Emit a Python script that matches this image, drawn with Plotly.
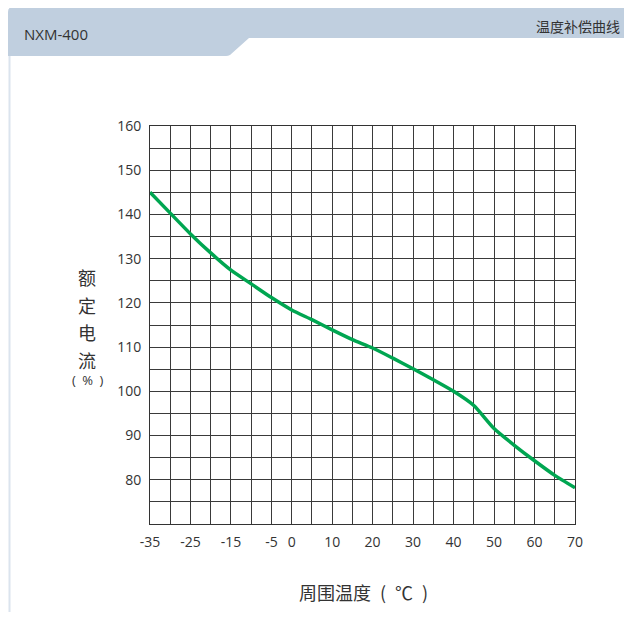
"""Temperature compensation curve for NXM-400 (rated current vs ambient temperature)."""

import plotly.graph_objects as go

# ambient temperature (°C) and rated current (%)
temps = [-35, -30, -25, -20, -15, -10, -5, 0, 5, 10, 15, 20,
         25, 30, 35, 40, 45, 50, 55, 60, 65, 70]
current = [145, 140.3, 135.6, 131.3, 127.4, 124.3, 121.2, 118.4, 116.2, 113.9, 111.7, 109.8,
           107.5, 105.1, 102.6, 100.0, 96.8, 91.6, 87.8, 84.3, 81.0, 78.2]

x_grid = list(range(-35, 71, 5))
x_labels = [-35, -25, -15, -5, 0, 10, 20, 30, 40, 50, 60, 70]
y_grid = list(range(70, 161, 5))
y_labels = [80, 90, 100, 110, 120, 130, 140, 150, 160]

# page body has an 8px margin, so the figure is drawn 8px in from the window edge
OFF = 8
W, H = 632 - 2 * OFF, 620 - 2 * OFF
L, R, T, B = 150 - OFF, 575 - OFF, 126 - OFF, 524 - OFF

FONT = "Noto Sans CJK SC, Open Sans, sans-serif"
NUM_FONT = "Open Sans, Noto Sans, sans-serif"
TXT = "#333333"
SP = "\u2002"


def px(x):
    # screen x (window coords) -> paper
    return (x - OFF - L) / (R - L)


def py(y):
    # screen y (window coords) -> paper
    return (B - (y - OFF)) / (B - T)


fig = go.Figure()
fig.add_trace(
    go.Scatter(
        x=temps,
        y=current,
        mode="lines",
        line=dict(color="#00a651", width=3.5, shape="spline", smoothing=0.6),
        hoverinfo="skip",
        showlegend=False,
    )
)

# header band
band = (
    f"M {px(8)},{py(56)} L {px(8)},{py(12)} Q {px(8)},{py(7)} {px(13)},{py(7)} "
    f"L {px(640)},{py(7)} L {px(640)},{py(38)} L {px(249)},{py(38)} "
    f"L {px(230)},{py(55)} Q {px(228)},{py(56)} {px(226)},{py(56)} Z"
)
shapes = [
    dict(type="path", xref="paper", yref="paper", path=band,
         fillcolor="#c0cfdf", line=dict(width=0), layer="below"),
    dict(type="line", xref="paper", yref="paper",
         x0=px(9.5), x1=px(9.5), y0=py(56), y1=py(630),
         line=dict(color="#dbe4ee", width=2), layer="below"),
]

annotations = [
    dict(text="NXM-400", x=px(22), y=py(34), xref="paper", yref="paper",
         xanchor="left", yanchor="middle", showarrow=False,
         font=dict(family=NUM_FONT, size=15, color=TXT)),
    dict(text="温度补偿曲线", x=px(622), y=py(26), xref="paper", yref="paper",
         xanchor="right", yanchor="middle", showarrow=False,
         font=dict(family=FONT, size=14, color=TXT)),
    dict(text=f"周围温度{SP}({SP}℃{SP})", x=px(363), y=py(592), xref="paper", yref="paper",
         xanchor="center", yanchor="middle", showarrow=False,
         font=dict(family=FONT, size=18, color=TXT)),
    dict(text=f"({SP}%{SP})", x=px(88), y=py(380), xref="paper", yref="paper",
         xanchor="center", yanchor="middle", showarrow=False,
         font=dict(family=NUM_FONT, size=13, color=TXT)),
]
for i, ch in enumerate("额定电流"):
    annotations.append(
        dict(text=ch, x=px(87), y=py(277 + i * 27.5), xref="paper", yref="paper",
             xanchor="center", yanchor="middle", showarrow=False,
             font=dict(family=FONT, size=18, color=TXT))
    )

axis_common = dict(
    showgrid=True,
    gridcolor="#3a3a3a",
    gridwidth=1,
    zeroline=False,
    showline=True,
    mirror=True,
    linecolor="#333333",
    linewidth=1,
    ticks="",
    ticklabelstandoff=5,
    tickfont=dict(family=NUM_FONT, size=14, color=TXT),
    fixedrange=True,
)

fig.update_layout(
    width=W,
    height=H,
    margin=dict(l=L, r=W - R, t=T, b=H - B),
    plot_bgcolor="white",
    paper_bgcolor="white",
    showlegend=False,
    shapes=shapes,
    annotations=annotations,
    xaxis=dict(
        range=[-35, 70],
        tickvals=x_grid,
        ticktext=[str(v) if v in x_labels else "" for v in x_grid],
        **axis_common,
    ),
    yaxis=dict(
        range=[70, 160],
        tickvals=y_grid,
        ticktext=[str(v) if v in y_labels else "" for v in y_grid],
        **axis_common,
    ),
)

fig.write_html("out.html")
